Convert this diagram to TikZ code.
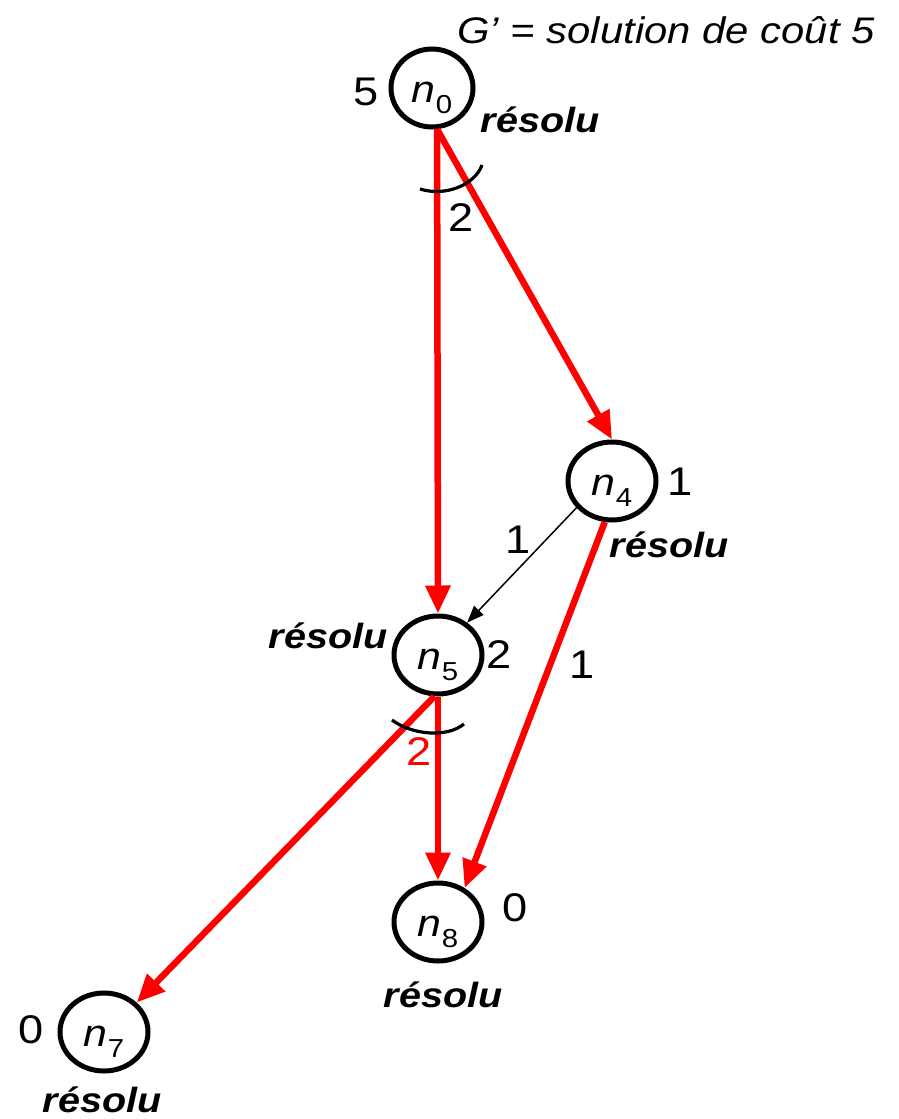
\documentclass[tikz,border=0pt]{standalone}
\usepackage{fontspec}
\setmainfont{Liberation Sans}[FakeStretch=1.13]
\usetikzlibrary{arrows.meta,shapes.geometric}
\newcommand\nfont{\fontsize{38}{38}\selectfont\itshape}
\newcommand\mysub[1]{\raisebox{-11pt}{\upshape\fontsize{26}{26}\selectfont #1}}
\newcommand\resfont{\fontsize{35}{35}\selectfont\bfseries\itshape}
\newcommand\numfont{\fontsize{40}{40}\selectfont}
\begin{document}
\begin{tikzpicture}[x=1pt,y=-1pt]
\useasboundingbox (0,0) rectangle (898,1119);
\tikzset{
 state/.style={draw=black, line width=5pt, ellipse, minimum width=88pt, minimum height=78pt,
   inner sep=0pt, text height=40pt, text depth=11pt, font=\nfont},
 redarr/.style={draw=red, line width=6.5pt, -{Triangle[length=28pt,width=24pt]}},
 thinarr/.style={draw=black, line width=1.5pt, -{Triangle[length=17pt,width=13pt]}},
 res/.style={font=\resfont, inner sep=0pt},
 num/.style={font=\numfont, inner sep=0pt},
 andarc/.style={draw=black, line width=3.2pt},
}
% nodes
\node[state, minimum width=82pt] (n0) at (432,88) {n\mysub{0}};
\node[state] (n4) at (612,481) {n\mysub{4}};
\node[state] (n5) at (438,655) {n\mysub{5}};
\node[state] (n8) at (438,922) {n\mysub{8}};
\node[state] (n7) at (104,1032) {n\mysub{7}};
% texts
\node[inner sep=0pt, font=\fontsize{37}{37}\selectfont\itshape] (title) at (666,30) {G’ = solution de coût 5};
\node[num] (c0) at (366,92) {5};
\node[res] (r0) at (540,120) {résolu};
\node[num] (l02) at (461,218) {2};
\node[num] (c4) at (680,482) {1};
\node[res] (r4) at (669,545) {résolu};
\node[num] (l45) at (518,540) {1};
\node[res] (r5) at (328,636) {résolu};
\node[num] (c5) at (499,655) {2};
\node[num] (l48) at (582,665) {1};
\node[num, text=red] (l52) at (419,752) {2};
\node[num] (c8) at (515,908) {0};
\node[res] (r8) at (443,995) {résolu};
\node[num] (c7) at (31,1030) {0};
\node[res] (r7) at (102,1100) {résolu};
% connectors
\draw[redarr] (n0.-83) -- (n5.north);
\draw[redarr] (n0.-83) -- (n4.north);
\draw[thinarr] (n4.217) -- (n5.48);
\draw[redarr] (n4.-100) -- (n8.52);
\draw[redarr] (n5.-95) -- (n7.42);
\draw[redarr] (n5.south) -- (n8.north);
% and-arcs
\draw[andarc] (420,189) .. controls (445,197) and (475,185) .. (482,165);
\draw[andarc] (392,720) .. controls (412,735) and (447,738) .. (464,724);
\end{tikzpicture}
\end{document}
